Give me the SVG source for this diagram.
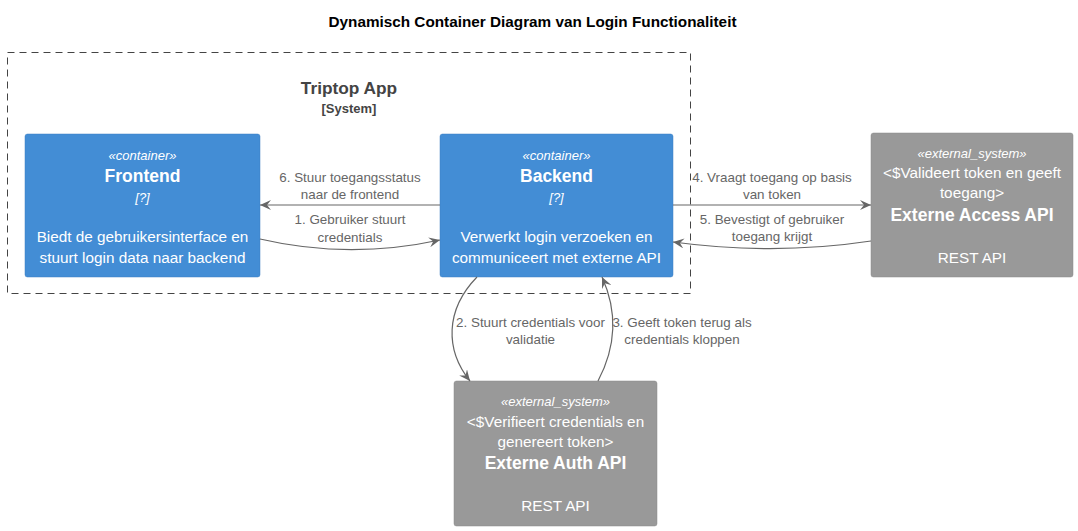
<svg xmlns="http://www.w3.org/2000/svg" width="1078" height="531" viewBox="0 0 1078 531">
<style>
text{font-family:"Liberation Sans",Arial,sans-serif}
.title{font-size:15.3px;font-weight:bold;fill:#000}
.bnd{fill:none;stroke:#444;stroke-width:1;stroke-dasharray:7,5}
.bname{font-size:17.3px;font-weight:bold;fill:#444}
.btype{font-size:13px;font-weight:bold;fill:#444}
.cont{fill:#438DD5;stroke:#3C7FC0;stroke-width:0.5}
.ext{fill:#999999;stroke:#8A8A8A;stroke-width:0.5}
.st{font-size:13px;font-style:italic;fill:#fff}
.nm{font-size:17.5px;font-weight:bold;fill:#fff}
.tx{font-size:15.3px;fill:#fff}
.lbl{font-size:13.4px;fill:#666}
.edge{fill:none;stroke:#666;stroke-width:1.2}
</style>
<defs>
<marker id="arr" viewBox="0 0 12 10" refX="11" refY="5" markerWidth="12" markerHeight="10" markerUnits="userSpaceOnUse" orient="auto">
<path d="M0,0 L11,5 L0,10 L4,5 Z" fill="#666"/>
</marker>
</defs>
<rect width="1078" height="531" fill="#fff"/>
<text class="title" x="532.5" y="27" text-anchor="middle">Dynamisch Container Diagram van Login Functionaliteit</text>

<g id="boundary">
<rect class="bnd" x="7.5" y="52.5" width="683" height="241"/>
<text class="bname" x="349" y="94" text-anchor="middle">Triptop App</text>
<text class="btype" x="349" y="113" text-anchor="middle">[System]</text>
</g>

<g id="frontend">
<rect class="cont" x="25" y="134" width="235" height="143" rx="2.5"/>
<text class="st" x="142.5" y="160" text-anchor="middle">«container»</text>
<text class="nm" x="142.5" y="182" text-anchor="middle">Frontend</text>
<text class="st" x="142.5" y="202" text-anchor="middle">[?]</text>
<text class="tx" x="142.5" y="242" text-anchor="middle">Biedt de gebruikersinterface en</text>
<text class="tx" x="142.5" y="263" text-anchor="middle">stuurt login data naar backend</text>
</g>

<g id="backend">
<rect class="cont" x="440" y="134" width="233" height="143" rx="2.5"/>
<text class="st" x="556.5" y="160" text-anchor="middle">«container»</text>
<text class="nm" x="556.5" y="182" text-anchor="middle">Backend</text>
<text class="st" x="556.5" y="202" text-anchor="middle">[?]</text>
<text class="tx" x="556.5" y="242" text-anchor="middle">Verwerkt login verzoeken en</text>
<text class="tx" x="556.5" y="263" text-anchor="middle">communiceert met externe API</text>
</g>

<g id="access">
<rect class="ext" x="871" y="133" width="202" height="144" rx="2.5"/>
<text class="st" x="972" y="158" text-anchor="middle">«external_system»</text>
<text class="tx" x="972" y="178" text-anchor="middle">&lt;$Valideert token en geeft</text>
<text class="tx" x="972" y="198" text-anchor="middle">toegang&gt;</text>
<text class="nm" x="972" y="221" text-anchor="middle">Externe Access API</text>
<text class="tx" x="972" y="263" text-anchor="middle">REST API</text>
</g>

<g id="auth">
<rect class="ext" x="454" y="381" width="203" height="145" rx="2.5"/>
<text class="st" x="555.5" y="406" text-anchor="middle">«external_system»</text>
<text class="tx" x="555.5" y="427" text-anchor="middle">&lt;$Verifieert credentials en</text>
<text class="tx" x="555.5" y="447" text-anchor="middle">genereert token&gt;</text>
<text class="nm" x="555.5" y="469" text-anchor="middle">Externe Auth API</text>
<text class="tx" x="555.5" y="511" text-anchor="middle">REST API</text>
</g>

<g id="connectors">
<path class="edge" d="M440,205 L260,205" marker-end="url(#arr)"/>
<text class="lbl" x="350" y="182" text-anchor="middle">6. Stuur toegangsstatus</text>
<text class="lbl" x="350" y="199" text-anchor="middle">naar de frontend</text>

<path class="edge" d="M260,239 C320,253 380,253 440,240" marker-end="url(#arr)"/>
<text class="lbl" x="350" y="224" text-anchor="middle">1. Gebruiker stuurt</text>
<text class="lbl" x="350" y="242" text-anchor="middle">credentials</text>

<path class="edge" d="M673,205 L871,205" marker-end="url(#arr)"/>
<text class="lbl" x="772" y="182" text-anchor="middle">4. Vraagt toegang op basis</text>
<text class="lbl" x="772" y="199" text-anchor="middle">van token</text>

<path class="edge" d="M871,241 C805,251 740,251 673,242" marker-end="url(#arr)"/>
<text class="lbl" x="772" y="224" text-anchor="middle">5. Bevestigt of gebruiker</text>
<text class="lbl" x="772" y="241" text-anchor="middle">toegang krijgt</text>

<path class="edge" d="M477,277 C445,310 445,350 470,381" marker-end="url(#arr)"/>
<text class="lbl" x="530.5" y="327" text-anchor="middle">2. Stuurt credentials voor</text>
<text class="lbl" x="530.5" y="344" text-anchor="middle">validatie</text>

<path class="edge" d="M598,381 C617,345 617,310 602,277" marker-end="url(#arr)"/>
<text class="lbl" x="682" y="327" text-anchor="middle">3. Geeft token terug als</text>
<text class="lbl" x="682" y="344" text-anchor="middle">credentials kloppen</text>
</g>
</svg>
